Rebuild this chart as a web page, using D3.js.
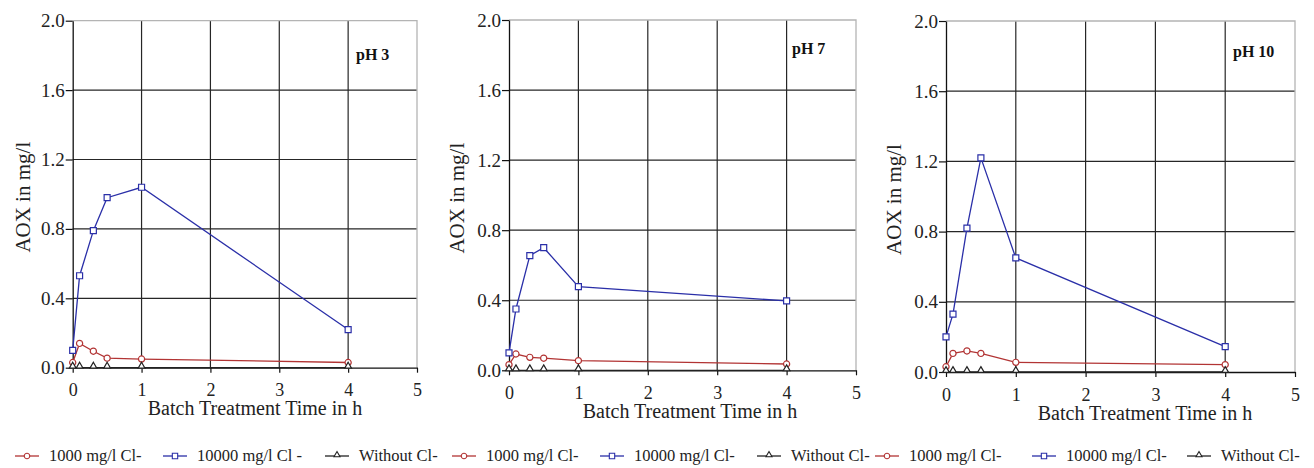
<!DOCTYPE html>
<html>
<head>
<meta charset="utf-8">
<script src="https://cdnjs.cloudflare.com/ajax/libs/d3/7.8.5/d3.min.js"></script>
<style>
body { margin: 0; background: #fff; }
svg { display: block; }
svg text { font-family: 'Liberation Serif', 'Times New Roman', Times, serif; }
</style>
</head>
<body>
<div id="chart-area"></div>
<script>
// Data (AOX in mg/l vs batch treatment time in h)
var times = [0, 0.1, 0.3, 0.5, 1, 4];

var ph3_1000  = [0.03, 0.14, 0.095, 0.055, 0.05, 0.03];
var ph3_10000 = [0.10, 0.53, 0.79, 0.98, 1.04, 0.22];
var ph3_none  = [0, 0, 0, 0, 0, 0];

var ph7_1000  = [0.032, 0.093, 0.074, 0.069, 0.055, 0.036];
var ph7_10000 = [0.10, 0.35, 0.655, 0.70, 0.478, 0.396];
var ph7_none  = [0, 0, 0, 0, 0, 0];

var ph10_1000  = [0.03, 0.106, 0.12, 0.106, 0.055, 0.042];
var ph10_10000 = [0.20, 0.33, 0.82, 1.22, 0.65, 0.145];
var ph10_none  = [0, 0, 0, 0, 0, 0];

var panelNames = ["pH 3", "pH 7", "pH 10"];
var xTicks = [0, 1, 2, 3, 4, 5];
var yTicks = [0, 0.4, 0.8, 1.2, 1.6, 2.0];
var legendLabels = [
    ["1000 mg/l Cl-", "10000 mg/l Cl -", "Without Cl-"],
    ["1000 mg/l Cl-", "10000 mg/l Cl-", "Without Cl-"],
    ["1000 mg/l Cl-", "10000 mg/l Cl-", "Without Cl-"]
];

var panelData = [
    [ph3_1000, ph3_10000, ph3_none],
    [ph7_1000, ph7_10000, ph7_none],
    [ph10_1000, ph10_10000, ph10_none]
];

var FONT = "'Liberation Serif', 'Times New Roman', Times, serif";

// Styles per series
var colors = ["#b23434", "#2a2fa8", "#222222"];
var shapes = [d3.symbolCircle, d3.symbolSquare, d3.symbolTriangle];
var shapeSize = [30, 36, 20];

// Layout of the three panels
var panels = [
    { left: 72.7, right: 417, top: 20.7, bottom: 367.7, tag: [356, 59.5], yTitle: 23, xTitle: [255, 415] },
    { left: 509, right: 856, top: 20, bottom: 370.3, tag: [792, 53.5], yTitle: 457, xTitle: [690, 418] },
    { left: 946, right: 1295, top: 21, bottom: 372, tag: [1233, 56.7], yTitle: 894, xTitle: [1145, 420] }
];
var legendX = [15, 163, 325, 452, 600, 757, 875, 1032, 1187];
var legendY = 456;

var svg = d3.select("#chart-area")
    .append("svg")
    .attr("width", 1314)
    .attr("height", 468)
    .style("font-family", FONT);

panels.forEach(function(p, pi){
    var g = svg.append("g");

    // Scales
    var x = d3.scaleLinear().domain([0, 5]).range([p.left, p.right]);
    var y = d3.scaleLinear().domain([0, 2]).range([p.bottom, p.top]);

    // Gridlines
    g.selectAll(".hgrid").data(yTicks.slice(1, -1)).enter()
        .append("line")
        .attr("x1", p.left).attr("x2", p.right)
        .attr("y1", function(d){ return y(d); })
        .attr("y2", function(d){ return y(d); })
        .attr("stroke", "#262626").attr("stroke-width", 1.2);
    g.selectAll(".vgrid").data(xTicks.slice(1, -1)).enter()
        .append("line")
        .attr("y1", p.top).attr("y2", p.bottom)
        .attr("x1", function(d){ return x(d); })
        .attr("x2", function(d){ return x(d); })
        .attr("stroke", "#262626").attr("stroke-width", 1.2);

    // Grey frame top / right
    g.append("path")
        .attr("d", "M" + p.left + "," + y(2) + "H" + x(5) + "V" + p.bottom)
        .attr("fill", "none")
        .attr("stroke", "#b4b4b4")
        .attr("stroke-width", 1.3);

    // X Axis
    var xAxisCall = d3.axisBottom(x)
        .tickValues(xTicks)
        .tickSize(5)
        .tickPadding(11)
        .tickSizeOuter(0)
        .tickFormat(d3.format("d"));
    var xa = g.append("g")
        .attr("transform", "translate(0," + p.bottom + ")")
        .call(xAxisCall)
        .attr("font-family", null);
    xa.select(".domain").attr("stroke", "#111").attr("stroke-width", 1.3);
    xa.selectAll("line").attr("stroke", "#111").attr("stroke-width", 1.2);
    xa.selectAll("text").attr("fill", "#222")
        .style("font-size", "18px")
        .style("font-family", FONT);

    // Y Axis
    var yAxisCall = d3.axisLeft(y)
        .tickValues(yTicks)
        .tickSize(7)
        .tickPadding(1)
        .tickSizeOuter(0)
        .tickFormat(d3.format(".1f"));
    var ya = g.append("g")
        .attr("transform", "translate(" + p.left + ",0)")
        .call(yAxisCall)
        .attr("font-family", null);
    ya.select(".domain").attr("stroke", "#111").attr("stroke-width", 1.3);
    ya.selectAll("line").attr("stroke", "#111").attr("stroke-width", 1.2);
    ya.selectAll("text").attr("fill", "#222")
        .style("font-size", "19px")
        .style("font-family", FONT);

    // Labels
    g.append("text")
        .attr("transform", "translate(" + p.yTitle + "," + ((p.top + p.bottom) / 2 + 3) + ") rotate(-90)")
        .attr("dy", "0.35em")
        .attr("text-anchor", "middle")
        .style("font-size", "21px")
        .style("font-family", FONT)
        .attr("fill", "#222")
        .text("AOX in mg/l");
    g.append("text")
        .attr("x", p.xTitle[0])
        .attr("y", p.xTitle[1])
        .attr("text-anchor", "middle")
        .style("font-size", "20px")
        .style("font-family", FONT)
        .attr("fill", "#222")
        .text("Batch Treatment Time in h");
    g.append("text")
        .attr("x", p.tag[0])
        .attr("y", p.tag[1])
        .style("font-size", "16px")
        .style("font-family", FONT)
        .attr("font-weight", "bold")
        .attr("fill", "#111")
        .text(panelNames[pi]);

    // Series
    var line = d3.line()
        .x(function(d){ return x(d[0]); })
        .y(function(d){ return y(d[1]); });

    panelData[pi].forEach(function(vals, si){
        var pts = times.map(function(t, i){ return [t, vals[i]]; });
        g.append("path")
            .datum(pts)
            .attr("fill", "none")
            .attr("stroke", colors[si])
            .attr("stroke-width", 1.3)
            .attr("d", line);
        g.selectAll(".m" + si).data(pts).enter()
            .append("path")
            .attr("class", "m" + si)
            .attr("transform", function(d){
                var dy = si == 2 ? -1.5 : 0;
                return "translate(" + x(d[0]) + "," + (y(d[1]) + dy) + ")";
            })
            .attr("d", d3.symbol().type(shapes[si]).size(shapeSize[si]))
            .attr("fill", "#fff")
            .attr("stroke", colors[si])
            .attr("stroke-width", 1.2);
    });

    // Legend
    legendLabels[pi].forEach(function(lbl, si){
        var lx = legendX[pi * 3 + si];
        var lg = svg.append("g");
        lg.append("line")
            .attr("x1", lx).attr("x2", lx + 24)
            .attr("y1", legendY).attr("y2", legendY)
            .attr("stroke", colors[si]).attr("stroke-width", 1.3);
        lg.append("path")
            .attr("transform", "translate(" + (lx + 12) + "," + (legendY - (si == 2 ? 1 : 0)) + ")")
            .attr("d", d3.symbol().type(shapes[si]).size(shapeSize[si] * 0.8))
            .attr("fill", "#fff")
            .attr("stroke", colors[si])
            .attr("stroke-width", 1.1);
        lg.append("text")
            .attr("x", lx + 34)
            .attr("y", legendY + 5)
            .style("font-size", "16.5px")
            .style("font-family", FONT)
            .attr("fill", "#222")
            .text(lbl);
    });
});
</script>
</body>
</html>
